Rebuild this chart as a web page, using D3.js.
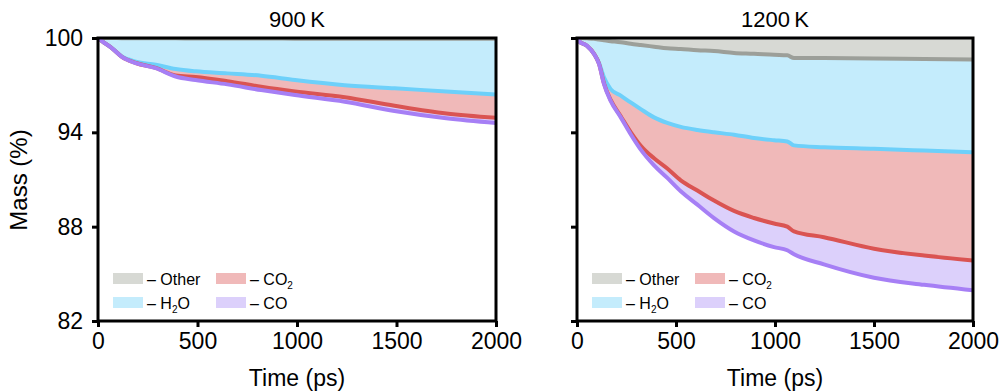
<!DOCTYPE html>
<html>
<head>
<meta charset="utf-8">
<script src="https://cdn.jsdelivr.net/npm/d3@7"></script>
<style>
  body { margin: 0; background: #fff; }
  svg { display: block; font-family: "Liberation Sans", Arial, Helvetica, sans-serif; }
</style>
</head>
<body>
<svg id="chart" width="1001" height="392"></svg>
<script>
// ---------------- DATA ----------------
const panelTitles = ["900\u2009K", "1200\u2009K"];
const yTicks = [100, 94, 88, 82];
const xTicks = [0, 500, 1000, 1500, 2000];

// 900 K : remaining mass (%) after subtracting each product, cumulative
const time900  = [0, 20, 70, 120, 190, 290, 390, 490, 650, 820, 990, 1240, 1490, 1750, 2000];
const other900 = [100, 100, 100, 99.99, 99.99, 99.98, 99.98, 99.97, 99.97, 99.97, 99.96, 99.96, 99.95, 99.95, 99.95];
const h2o900   = [100, 99.8, 99.36, 98.82, 98.5, 98.3, 98.03, 97.88, 97.75, 97.6, 97.33, 97.0, 96.8, 96.6, 96.4];
const co2900   = [100, 99.8, 99.35, 98.8, 98.41, 98.1, 97.62, 97.52, 97.25, 96.9, 96.6, 96.23, 95.69, 95.2, 94.92];
const co900    = [100, 99.8, 99.35, 98.8, 98.4, 98.08, 97.55, 97.33, 97.05, 96.69, 96.37, 95.95, 95.36, 94.9, 94.6];

// 1200 K
const time1200  = [0, 10, 50, 86, 111, 136, 170, 221, 271, 322, 389, 456, 524, 608, 692, 793, 894, 995, 1062, 1096, 1247, 1500, 1753, 2000];
const other1200 = [100, 100, 99.98, 99.95, 99.9, 99.85, 99.8, 99.73, 99.63, 99.55, 99.45, 99.35, 99.3, 99.22, 99.17, 99.05, 99.0, 98.93, 98.9, 98.72, 98.72, 98.7, 98.66, 98.63];
const h2o1200   = [100, 99.8, 99.51, 99.0, 98.42, 97.5, 96.75, 96.33, 95.9, 95.48, 94.95, 94.6, 94.35, 94.15, 94.0, 93.85, 93.64, 93.5, 93.42, 93.17, 93.05, 92.95, 92.84, 92.73];
const co21200   = [100, 99.8, 99.5, 98.99, 98.37, 97.12, 96.06, 95.02, 94.02, 93.15, 92.35, 91.7, 90.95, 90.3, 89.66, 89.0, 88.55, 88.2, 88.0, 87.7, 87.33, 86.6, 86.16, 85.85];
const co1200    = [100, 99.8, 99.5, 98.98, 98.35, 97.08, 96.0, 94.95, 93.88, 92.9, 91.9, 91.1, 90.25, 89.4, 88.55, 87.7, 87.13, 86.7, 86.5, 86.25, 85.6, 84.75, 84.3, 83.95];

const legendLabels = [["Other", ""], ["CO", "2"], ["H", "2", "O"], ["CO", ""]];

// ---------------- STYLES ----------------
const fills = { other: "#d7d9d4", h2o: "#c4ecfc", co2: "#f0b9b9", co: "#dcd0fb" };
const strokes = { other: "#9c9f99", h2o: "#6dd0fa", co2: "#da5452", co: "#a67ff5" };

const panels = [
  { title: panelTitles[0], t: time900, other: other900, h2o: h2o900, co2: co2900, co: co900, x0: 98, x1: 496, yLabels: true },
  { title: panelTitles[1], t: time1200, other: other1200, h2o: h2o1200, co2: co21200, co: co1200, x0: 577, x1: 973, yLabels: false }
];
const yTop = 38, yBot = 321;
const FONT = "Liberation Sans, Arial, sans-serif";

const svg = d3.select("#chart");

panels.forEach((p, pi) => {
  const x = d3.scaleLinear().domain([0, 2000]).range([p.x0, p.x1]);
  const y = d3.scaleLinear().domain([82, 100]).range([yBot, yTop]);
  const g = svg.append("g");

  const clipId = "clip" + pi;
  svg.append("clipPath").attr("id", clipId).append("rect")
    .attr("x", p.x0).attr("y", yTop).attr("width", p.x1 - p.x0).attr("height", yBot - yTop);

  const pts = p.t.map((t, i) => ({ t, other: p.other[i], h2o: p.h2o[i], co2: p.co2[i], co: p.co[i], top: 100 }));
  const bands = [["top", "other", "other"], ["other", "h2o", "h2o"], ["h2o", "co2", "co2"], ["co2", "co", "co"]];
  const plot = g.append("g").attr("clip-path", `url(#${clipId})`);
  bands.forEach(([a, b, k]) => {
    plot.append("path").datum(pts)
      .attr("fill", fills[k])
      .attr("d", d3.area().x(d => x(d.t)).y0(d => y(d[a])).y1(d => y(d[b])).curve(d3.curveMonotoneX));
  });
  ["other", "h2o", "co2", "co"].forEach(k => {
    plot.append("path").datum(pts)
      .attr("fill", "none").attr("stroke", strokes[k]).attr("stroke-width", 4)
      .attr("stroke-linejoin", "round")
      .attr("d", d3.line().x(d => x(d.t)).y(d => y(d[k])).curve(d3.curveMonotoneX));
  });

  // frame
  g.append("rect").attr("x", p.x0).attr("y", yTop).attr("width", p.x1 - p.x0).attr("height", yBot - yTop)
    .attr("fill", "none").attr("stroke", "#000").attr("stroke-width", 3);

  // y axis
  const ya = g.append("g").attr("transform", `translate(${p.x0},0)`)
    .call(d3.axisLeft(y).tickValues(yTicks).tickSize(6).tickPadding(9).tickFormat(p.yLabels ? d3.format("d") : () => ""));
  ya.select(".domain").remove();
  ya.selectAll(".tick line").attr("stroke", "#000").attr("stroke-width", 3);
  ya.selectAll(".tick text").attr("font-size", 23).attr("fill", "#000").attr("font-family", FONT);

  // x axis
  const xa = g.append("g").attr("transform", `translate(0,${yBot})`)
    .call(d3.axisBottom(x).tickValues(xTicks).tickSize(6).tickPadding(6).tickFormat(d3.format("d")));
  xa.select(".domain").remove();
  xa.selectAll(".tick line").attr("stroke", "#000").attr("stroke-width", 3);
  xa.selectAll(".tick text").attr("font-size", 23).attr("fill", "#000").attr("font-family", FONT);

  // title
  g.append("text").attr("x", (p.x0 + p.x1) / 2).attr("y", 27).attr("text-anchor", "middle")
    .attr("font-size", 22).text(p.title);
  // x label
  g.append("text").attr("x", (p.x0 + p.x1) / 2).attr("y", 386).attr("text-anchor", "middle")
    .attr("font-size", 23).text("Time (ps)");

  // legend
  const lx = p.x0 + 15, ly = 273;
  const keys = ["other", "co2", "h2o", "co"];
  keys.forEach((k, i) => {
    const col = i % 2, row = Math.floor(i / 2);
    const sx = lx + col * 103, sy = ly + row * 24;
    g.append("rect").attr("x", sx).attr("y", sy).attr("width", 30).attr("height", 11).attr("fill", fills[k]);
    const txt = g.append("text").attr("x", sx + 34).attr("y", sy + 11.5).attr("font-size", 16);
    const lab = legendLabels[i];
    txt.append("tspan").text("\u2013 " + lab[0]);
    if (lab[1]) {
      txt.append("tspan").attr("font-size", 10).attr("dy", 4).text(lab[1]);
      if (lab[2]) txt.append("tspan").attr("dy", -4).text(lab[2]);
    }
  });
});

// y label
svg.append("text").attr("transform", "translate(27,180) rotate(-90)").attr("text-anchor", "middle")
  .attr("font-size", 24).text("Mass (%)");
</script>
</body>
</html>
